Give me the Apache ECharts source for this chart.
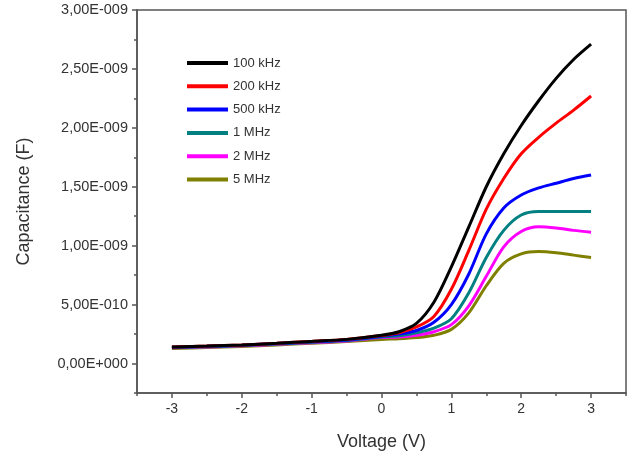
<!DOCTYPE html>
<html>
<head>
<meta charset="utf-8">
<script src="https://cdn.jsdelivr.net/npm/echarts@6/dist/echarts.min.js"></script>
<style>
  html, body { margin: 0; padding: 0; background: #fff; }
  #chart { width: 632px; height: 459px; }
</style>
</head>
<body>
<div id="chart"></div>
<script>
// Bias voltage (V)
const voltage = [-3, -2.5, -2, -1.5, -1, -0.5, 0, 0.25, 0.5, 0.75, 1, 1.25, 1.5, 1.75, 2, 2.25, 2.5, 2.75, 3];

// Capacitance (F) for each measurement frequency
const cap100k = [1.40e-10, 1.48e-10, 1.58e-10, 1.72e-10, 1.88e-10, 2.05e-10, 2.40e-10, 2.70e-10, 3.40e-10, 5.20e-10, 8.20e-10, 1.16e-9, 1.50e-9, 1.78e-9, 2.02e-9, 2.23e-9, 2.42e-9, 2.58e-9, 2.71e-9];
const cap200k = [1.40e-10, 1.48e-10, 1.58e-10, 1.72e-10, 1.88e-10, 2.05e-10, 2.38e-10, 2.60e-10, 3.10e-10, 4.00e-10, 6.30e-10, 9.60e-10, 1.31e-9, 1.57e-9, 1.78e-9, 1.92e-9, 2.04e-9, 2.15e-9, 2.27e-9];
const cap500k = [1.38e-10, 1.46e-10, 1.56e-10, 1.70e-10, 1.85e-10, 2.00e-10, 2.32e-10, 2.50e-10, 2.80e-10, 3.50e-10, 5.00e-10, 7.60e-10, 1.10e-9, 1.32e-9, 1.43e-9, 1.49e-9, 1.53e-9, 1.57e-9, 1.60e-9];
const cap1M   = [1.35e-10, 1.43e-10, 1.53e-10, 1.66e-10, 1.80e-10, 1.95e-10, 2.25e-10, 2.35e-10, 2.60e-10, 3.00e-10, 3.80e-10, 6.00e-10, 9.00e-10, 1.13e-9, 1.26e-9, 1.29e-9, 1.29e-9, 1.29e-9, 1.29e-9];
const cap2M   = [1.33e-10, 1.41e-10, 1.50e-10, 1.63e-10, 1.77e-10, 1.92e-10, 2.20e-10, 2.25e-10, 2.40e-10, 2.70e-10, 3.30e-10, 4.90e-10, 7.40e-10, 9.90e-10, 1.12e-9, 1.16e-9, 1.15e-9, 1.13e-9, 1.115e-9];
const cap5M   = [1.28e-10, 1.36e-10, 1.45e-10, 1.58e-10, 1.72e-10, 1.86e-10, 2.05e-10, 2.10e-10, 2.20e-10, 2.40e-10, 2.90e-10, 4.30e-10, 6.60e-10, 8.50e-10, 9.30e-10, 9.50e-10, 9.40e-10, 9.20e-10, 9.00e-10];

const seriesNames = ['100 kHz', '200 kHz', '500 kHz', '1 MHz', '2 MHz', '5 MHz'];
const seriesData = [cap100k, cap200k, cap500k, cap1M, cap2M, cap5M];
const seriesColors = ['#000000', '#ff0000', '#0000ff', '#008080', '#ff00ff', '#808000'];

// Tick positions: every half volt on x, every 2.5E-010 on y; labelled ones are the majors
const xTickValues = [-3.5, -3, -2.5, -2, -1.5, -1, -0.5, 0, 0.5, 1, 1.5, 2, 2.5, 3, 3.5];
const yTickValues = [-2.5e-10, 0, 2.5e-10, 5e-10, 7.5e-10, 1e-9, 1.25e-9, 1.5e-9, 1.75e-9, 2e-9, 2.25e-9, 2.5e-9, 2.75e-9, 3e-9];

// "3,00E-009" style: two decimals, comma separator, signed 3-digit exponent
function sciLabel(v) {
  if (Math.abs(v) < 1e-15) return '0,00E+000';
  let exp = Math.floor(Math.log10(Math.abs(v)) + 1e-9);
  let mant = v / Math.pow(10, exp);
  if (Math.abs(mant) >= 9.995) { mant /= 10; exp += 1; }
  const sign = exp < 0 ? '-' : '+';
  return mant.toFixed(2).replace('.', ',') + 'E' + sign + String(Math.abs(exp)).padStart(3, '0');
}
const isMajorX = v => Math.abs(v - Math.round(v)) < 1e-6 && Math.abs(v) <= 3;
const isMajorY = v => v > -1e-15 && Math.abs(v / 5e-10 - Math.round(v / 5e-10)) < 1e-6;

const font = 'Liberation Sans, Arial, sans-serif';
const axisColor = '#555';
const tickStyle = { color: axisColor, width: 1.5 };

const chart = echarts.init(document.getElementById('chart'), null, { renderer: 'canvas' });

chart.setOption({
  animation: false,
  backgroundColor: '#ffffff',
  grid: {
    left: 137, right: 6, top: 10, bottom: 66,
    show: true, borderColor: axisColor, borderWidth: 1.5, backgroundColor: 'transparent'
  },
  legend: {
    orient: 'vertical',
    left: 182, top: 51,
    itemWidth: 41, itemHeight: 4, itemGap: 9.3,
    icon: 'rect',
    textStyle: { fontFamily: font, fontSize: 13, color: '#333', lineHeight: 14 },
    data: seriesNames
  },
  xAxis: [
    {
      // value axis: carries the data, the labels and the short ticks
      type: 'value',
      min: xTickValues[0], max: xTickValues[xTickValues.length - 1], interval: 0.5,
      axisLine: { show: true, onZero: false, lineStyle: tickStyle },
      axisTick: { show: true, length: 3, lineStyle: tickStyle },
      splitLine: { show: false },
      axisLabel: {
        fontFamily: font, fontSize: 14, color: '#333', margin: 9,
        formatter: v => (isMajorX(v) ? String(Math.round(v)) : '')
      },
      name: 'Voltage (V)', nameLocation: 'middle', nameGap: 40,
      nameTextStyle: { fontFamily: font, fontSize: 18, color: '#333' }
    },
    {
      // category overlay: long ticks at the whole volts
      type: 'category', position: 'bottom', boundaryGap: false,
      data: xTickValues.map(String),
      axisLine: { show: false, onZero: false },
      axisTick: { show: true, length: 5, lineStyle: tickStyle, interval: i => isMajorX(xTickValues[i]) },
      axisLabel: { show: false },
      splitLine: { show: false }
    }
  ],
  yAxis: [
    {
      type: 'value',
      min: yTickValues[0], max: yTickValues[yTickValues.length - 1], interval: 2.5e-10,
      axisLine: { show: true, onZero: false, lineStyle: tickStyle },
      axisTick: { show: true, length: 3, lineStyle: tickStyle },
      splitLine: { show: false },
      axisLabel: {
        fontFamily: font, fontSize: 14.5, color: '#333', margin: 9,
        formatter: v => (isMajorY(v) ? sciLabel(v) : '')
      },
      name: 'Capacitance (F)', nameLocation: 'middle', nameGap: 104, nameRotate: 90,
      nameTextStyle: { fontFamily: font, fontSize: 18, color: '#333' }
    },
    {
      // category overlay: long ticks at the labelled values
      type: 'category', position: 'left', boundaryGap: false,
      data: yTickValues.map(String),
      axisLine: { show: false, onZero: false },
      axisTick: { show: true, length: 5, lineStyle: tickStyle, interval: i => isMajorY(yTickValues[i]) },
      axisLabel: { show: false },
      splitLine: { show: false }
    }
  ],
  series: seriesNames.map((name, i) => ({
    name: name,
    type: 'line',
    xAxisIndex: 0,
    yAxisIndex: 0,
    data: voltage.map((v, j) => [v, seriesData[i][j]]),
    smooth: 0.3,
    showSymbol: false,
    symbol: 'none',
    lineStyle: { color: seriesColors[i], width: 3 },
    itemStyle: { color: seriesColors[i] },
    z: 10 - i
  }))
});
</script>
</body>
</html>
